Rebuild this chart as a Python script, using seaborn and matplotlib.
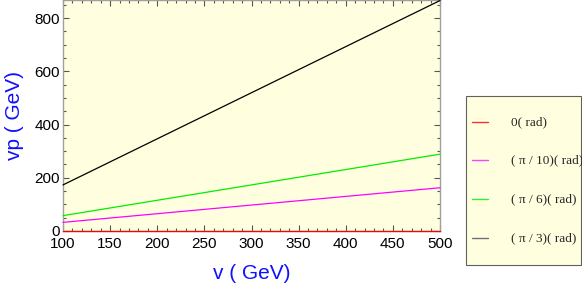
import matplotlib
matplotlib.use("Agg")
import matplotlib.pyplot as plt
import seaborn as sns
import pandas as pd
from matplotlib.patches import Rectangle
from matplotlib.ticker import MultipleLocator

sns.set_style("white")
plt.rcParams['font.family'] = ['Liberation Sans', 'DejaVu Sans']

# data: endpoints of straight lines
v = [100, 500]
vp_0 = [0.0, 0.0]
vp_pi10 = [32.5, 162.5]
vp_pi6 = [57.7, 288.7]
vp_pi3 = [173.2, 866.0]
labels = ["0( rad)", "( \u03c0 / 10)( rad)", "( \u03c0 / 6)( rad)", "( \u03c0 / 3)( rad)"]
colors = ["#ff0000", "#ff00ff", "#00ee00", "#000000"]
legend_colors = ["#ff3030", "#ff40ff", "#30ee30", "#707070"]

df = pd.concat([
    pd.DataFrame({"v": v, "vp": s, "angle": lab})
    for s, lab in zip([vp_0, vp_pi10, vp_pi6, vp_pi3], labels)
])

fig = plt.figure(figsize=(5.82, 2.89), dpi=100)
ax = fig.add_axes([63/582, 1 - 231/289, (440-63)/582, 231/289])
ax.set_facecolor("#ffffe0")

sns.lineplot(data=df, x="v", y="vp", hue="angle", palette=colors, ax=ax,
             linewidth=0.9, legend=False, clip_on=False, zorder=3)

ax.set_xlim(100, 500)
ax.set_ylim(0, 868)
ax.xaxis.set_major_locator(MultipleLocator(50))
ax.xaxis.set_minor_locator(MultipleLocator(10))
ax.yaxis.set_major_locator(MultipleLocator(200))
ax.yaxis.set_minor_locator(MultipleLocator(50))
ax.tick_params(which="both", direction="in", top=True, right=True,
               bottom=True, left=True, color="#555555", width=0.8)
ax.tick_params(which="major", length=4, labelsize=11, labelcolor="black", pad=2)
ax.tick_params(axis="x", which="major", pad=4)
ax.tick_params(which="minor", length=2.5)
ax.tick_params(axis="y", which="both", labelright=False)
ax.tick_params(axis="x", which="both", labeltop=False)
for sp in ax.spines.values():
    sp.set_color("#a0a0a0")
    sp.set_linewidth(1.0)

ax.set_xlabel("v ( GeV)", color="#1010ff", fontsize=15, labelpad=10)
ax.set_ylabel("vp ( GeV)", color="#1010ff", fontsize=15, labelpad=8)

# legend box
fig.patches.append(Rectangle((466/582, 1 - 265/289), (581-466)/582, (265-96)/289,
                             transform=fig.transFigure, facecolor="#ffffe0",
                             edgecolor="#606060", linewidth=0.8, zorder=0))
ys = [122, 160, 199, 238]
for lab, c, y in zip(labels, legend_colors, ys):
    yf = 1 - y/289
    fig.add_artist(plt.Line2D([472/582, 488/582], [yf, yf], color=c, linewidth=1.0,
                              transform=fig.transFigure))
    fig.text(511/582, yf, lab, fontsize=9.5, family=['Liberation Serif', 'DejaVu Serif'],
             va="center", ha="left")

fig.savefig("out.png", dpi=100, facecolor="white")
